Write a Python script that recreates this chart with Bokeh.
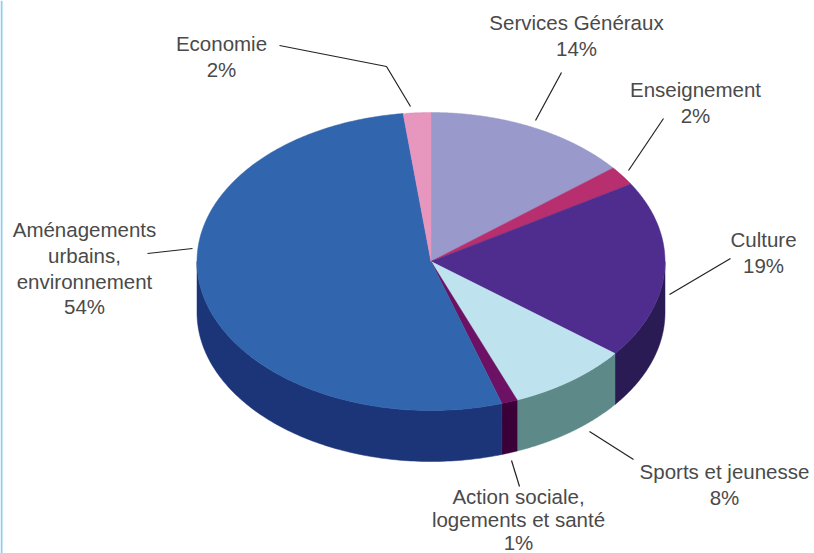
import numpy as np
from bokeh.plotting import figure
from bokeh.models import Range1d
from bokeh.core.properties import value
from bokeh.embed import file_html
from bokeh.resources import INLINE

# Slices, clockwise from the top, as measured on the drawn pie (percent of the turn)
categories = ["Services Généraux", "Enseignement", "Culture", "Sports et jeunesse",
              "Action sociale, logements et santé", "Aménagements urbains, environnement", "Economie"]
shares = [14.2, 2.1, 19.3, 8.4, 1.1, 53.0, 1.9]
top_colors = ["#9999cb", "#b72f6e", "#4f2d8e", "#bee3ee", "#6c1163", "#3165ae", "#e796be"]
side_colors = ["#6f6f99", "#7d1f4b", "#2b1b54", "#5d8a88", "#3a0037", "#1c3579", "#a86a88"]

label_lines = [["Economie", "2%"], ["Services Généraux", "14%"], ["Enseignement", "2%"],
               ["Culture", "19%"], ["Sports et jeunesse", "8%"],
               ["Action sociale,", "logements et santé", "1%"],
               ["Aménagements", "urbains,", "environnement", "54%"]]
label_x = [221, 576, 695, 763, 724, 518, 84]
label_y = [43, 22, 89, 239, 471, 496, 229]
label_step = [25.8, 25.8, 25.8, 25.8, 25.8, 23.2, 25.8]
leaders = [([279, 386, 410], [45, 66, 106]), ([561, 535], [72, 120]), ([663, 628], [118, 170]),
           ([730, 669], [258, 294]), ([589, 633], [431, 459]), ([511, 519], [460, 486]),
           ([147, 192], [253, 248])]

CX, CY, RX, RY, DEPTH = 430.5, 261, 234, 149, 51

p = figure(width=814, height=553, output_backend="svg", toolbar_location=None,
           x_range=Range1d(0, 814), y_range=Range1d(553, 0), min_border=0,
           outline_line_color=None, background_fill_color="white")
p.axis.visible = False
p.grid.visible = False

def ex(t):
    return CX + RX * np.sin(t)
def ey(t):
    return CY - RY * np.cos(t)

edges = np.concatenate([[0], np.cumsum(shares)]) / sum(shares) * 2 * np.pi

# Left page rule
p.line([1, 1], [0, 553], line_color="#8fcdf0", line_width=2)

# Side walls: only the part of each slice on the front half
for i in range(len(shares)):
    a, b = max(edges[i], np.pi / 2), min(edges[i + 1], 3 * np.pi / 2)
    if b <= a:
        continue
    t = np.linspace(a, b, 120)
    xs = np.concatenate([ex(t), ex(t[::-1])])
    ys = np.concatenate([ey(t), ey(t[::-1]) + DEPTH])
    p.patch(xs, ys, fill_color=side_colors[i], line_color=side_colors[i], line_width=0.5)

# Top faces
for i in range(len(shares)):
    t = np.linspace(edges[i], edges[i + 1], 240)
    xs = np.concatenate([[CX], ex(t)])
    ys = np.concatenate([[CY], ey(t)])
    p.patch(xs, ys, fill_color=top_colors[i], line_color=top_colors[i], line_width=0.5)

for xs, ys in leaders:
    p.line(xs, ys, line_color="#222222", line_width=1.2)

for lines, x, y, step in zip(label_lines, label_x, label_y, label_step):
    for k, s in enumerate(lines):
        p.text([x], [y + k * step], text=[s], text_align="center", text_baseline="middle",
               text_font=value("Liberation Sans"), text_font_size="20.5px", text_color="#4a4a4a")

open("out.html", "w").write(file_html(p, INLINE))
